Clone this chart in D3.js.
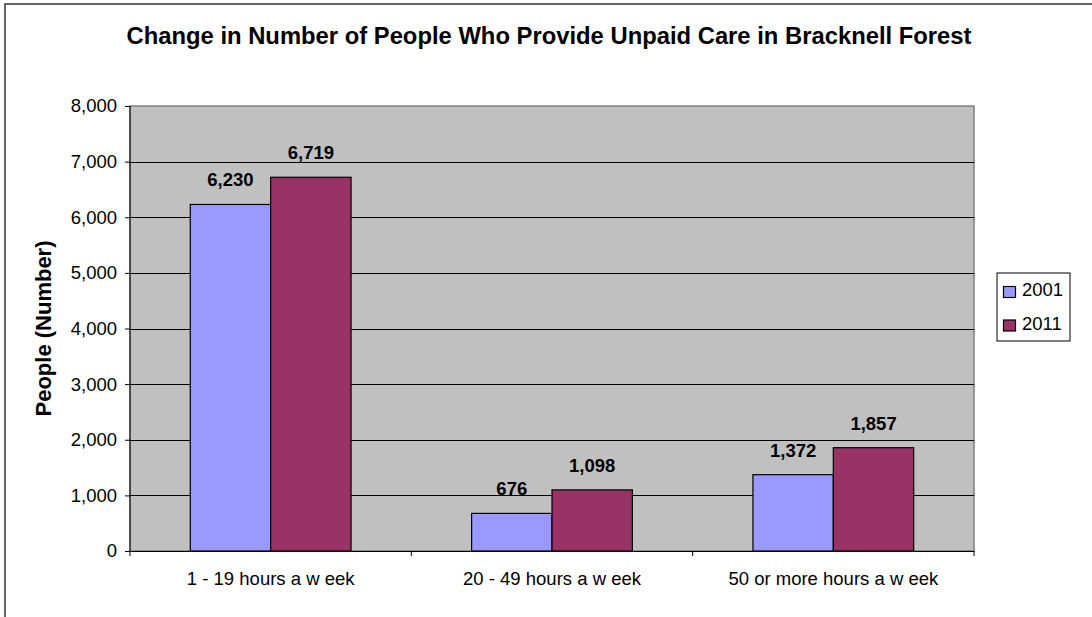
<!DOCTYPE html>
<html><head><meta charset="utf-8">
<script src="https://cdn.jsdelivr.net/npm/d3@7"></script>
<style>body{margin:0;background:#fff}svg{display:block}text{font-family:"Liberation Sans",Arial,sans-serif}</style>
</head><body><svg id="c" width="1092" height="617"></svg>
<script>
const categories = ["1 - 19 hours a w eek", "20 - 49 hours a w eek", "50 or more hours a w eek"];
const seriesNames = ["2001", "2011"];
const values2001 = [6230, 676, 1372];
const values2011 = [6719, 1098, 1857];
const yTicks = [0, 1000, 2000, 3000, 4000, 5000, 6000, 7000, 8000];
const colors = ["#9999FF", "#993366"];

const svg = d3.select("#c");
svg.append("rect").attr("x",5).attr("y",4).attr("width",1100).attr("height",640).attr("fill","#fff").attr("stroke","#333").attr("stroke-width",1.5);

const L=130, R=974, T=106, B=551;
const x = d3.scaleBand().domain(categories).range([L,R]);
const y = d3.scaleLinear().domain([0,8000]).range([B,T]);
const barW = x.bandwidth()/3.5;
const xs = d3.scaleBand().domain(seriesNames).range([0,2*barW]);

svg.append("rect").attr("x",L).attr("y",T).attr("width",R-L).attr("height",B-T).attr("fill","#C0C0C0").attr("stroke","#808080").attr("stroke-width",1.5);

svg.append("g").selectAll("line").data(yTicks.slice(1,-1)).join("line")
  .attr("x1",L).attr("x2",R).attr("y1",d=>Math.round(y(d))+0.5).attr("y2",d=>Math.round(y(d))+0.5).attr("stroke","#000").attr("stroke-width",1);

const series = [values2001, values2011];
categories.forEach((c,i)=>{
  seriesNames.forEach((s,j)=>{
    const v = series[j][i];
    const bx = x(c) + (x.bandwidth()-2*barW)/2 + xs(s);
    svg.append("rect").attr("x",bx).attr("y",y(v)).attr("width",barW).attr("height",B-y(v))
      .attr("fill",colors[j]).attr("stroke","#000").attr("stroke-width",1.2);
    svg.append("text").attr("x",bx+barW/2).attr("y",y(v)-18).attr("text-anchor","middle")
      .attr("font-size",18.5).attr("font-weight","bold").text(d3.format(",")(v));
  });
});

const ya = svg.append("g").attr("transform",`translate(${L},0)`).call(d3.axisLeft(y).tickValues(yTicks).tickFormat(d3.format(",")).tickSize(5).tickPadding(8));
ya.select(".domain").attr("stroke","#000").attr("d",`M0,${T}V${B}`);
ya.selectAll("text").attr("font-size",18.5).attr("fill","#000");
ya.selectAll("line").attr("stroke","#000");

const xa = svg.append("g").attr("transform",`translate(0,${B})`).call(d3.axisBottom(x).tickSize(0).tickPadding(21));
xa.select(".domain").attr("stroke","#000");
xa.selectAll("text").attr("font-size",18.5).attr("fill","#000");
svg.append("g").selectAll("line").data([L, ...categories.map(c=>x(c)+x.bandwidth())]).join("line")
  .attr("x1",d=>d).attr("x2",d=>d).attr("y1",B).attr("y2",B+5).attr("stroke","#000");

svg.append("text").attr("x",549).attr("y",44).attr("text-anchor","middle").attr("font-size",23.8).attr("font-weight","bold")
  .text("Change in Number of People Who Provide Unpaid Care in Bracknell Forest");
svg.append("text").attr("transform",`translate(51,${(T+B)/2}) rotate(-90)`).attr("text-anchor","middle").attr("font-size",22).attr("font-weight","bold").text("People (Number)");

const lg = svg.append("g");
lg.append("rect").attr("x",997).attr("y",273).attr("width",73).attr("height",68).attr("fill","#fff").attr("stroke","#000");
seriesNames.forEach((s,j)=>{
  lg.append("rect").attr("x",1003.5).attr("y",286.5+j*33.5).attr("width",12).attr("height",11).attr("fill",colors[j]).attr("stroke","#000").attr("stroke-width",1.2);
  lg.append("text").attr("x",1022).attr("y",296+j*34).attr("font-size",18.5).text(s);
});
</script></body></html>
